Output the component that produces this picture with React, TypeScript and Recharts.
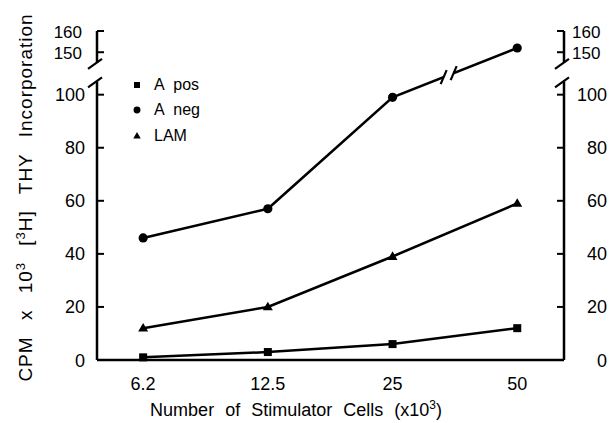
import { LineChart, Line, XAxis, YAxis, ReferenceLine, ReferenceDot, Legend } from 'recharts';

const cells = ['6.2', '12.5', '25', '50'];
const aPos = [1, 3, 6, 12];
const aNeg = [46, 57, 99, 152];
const lam = [12, 20, 39, 59];

const lowerTicks = [0, 20, 40, 60, 80, 100];
const upperTicks = [150, 160];

const FONT = '"Liberation Sans", Arial, Helvetica, sans-serif';

// broken y axis: 0-100 at full scale, 150-160 squeezed in above the gap
const toAxis = (v: number) => (v < 125 ? v : 116 + (v - 150) * 0.8);
const Y_MAX = toAxis(160);
const LOWER_END = toAxis(105);
const UPPER_END = toAxis(145);
const X_MIN = -0.37;
const X_MAX = 3.375;

const series = [
  { key: 'aPos', name: 'A pos', shape: 'square', axis: 'left' },
  { key: 'aNeg', name: 'A neg', shape: 'circle', axis: 'left' },
  { key: 'lam', name: 'LAM', shape: 'triangle', axis: 'right' },
];

const data = cells.map((c, i) => ({
  i,
  cell: c,
  aPos: toAxis(aPos[i]),
  aNeg: toAxis(aNeg[i]),
  lam: toAxis(lam[i]),
}));

const allTicks = [...lowerTicks, ...upperTicks];
const labelFor = (v: number) =>
  allTicks.reduce((best, t) => (Math.abs(toAxis(t) - v) < Math.abs(toAxis(best) - v) ? t : best), 0);

// where the A neg line gets its own break mark, between 25 and 50
const BREAK_X = 2.45;
const BREAK_Y = data[2].aNeg + (data[3].aNeg - data[2].aNeg) * (BREAK_X - 2);

const Marker = ({ shape, cx, cy, s }: any) => {
  if (shape === 'square') return <rect x={cx - s} y={cy - s} width={2 * s} height={2 * s} fill="#000" />;
  if (shape === 'circle') return <circle cx={cx} cy={cy} r={s * 1.15} fill="#000" />;
  return (
    <path
      d={`M${cx},${cy - s * 1.3} L${cx + s * 1.25},${cy + s * 0.85} L${cx - s * 1.25},${cy + s * 0.85} Z`}
      fill="#000"
    />
  );
};

const makeDot = (shape: string) => (p: any) =>
  <Marker key={`${shape}-${p.index}`} shape={shape} cx={p.cx} cy={p.cy} s={4} />;

const LeftTick = (p: any) => {
  const { x, y, payload } = p;
  const v = labelFor(payload.value);
  const upper = v > 100;
  return (
    <g>
      <line x1={x} x2={x + 7} y1={y} y2={y} stroke="#000" strokeWidth={2} />
      <text x={x - (upper ? 15 : 12)} y={y + 6.5} textAnchor="end" fontSize={upper ? 17 : 18} fontFamily={FONT} fill="#000">
        {v}
      </text>
    </g>
  );
};

const RightTick = (p: any) => {
  const { x, y, payload } = p;
  const v = labelFor(payload.value);
  const upper = v > 100;
  return (
    <g>
      <line x1={x - 7} x2={x} y1={y} y2={y} stroke="#000" strokeWidth={2} />
      <text
        x={upper ? x + 8 : x + 43}
        y={y + 6.5}
        textAnchor={upper ? 'start' : 'end'}
        fontSize={upper ? 17 : 18}
        fontFamily={FONT}
        fill="#000"
      >
        {v}
      </text>
    </g>
  );
};

const Slash = ({ cx, cy }: any) => (
  <line x1={cx - 9} y1={cy + 6} x2={cx + 5} y2={cy - 4} stroke="#000" strokeWidth={2.2} />
);

const LineBreak = ({ cx, cy }: any) => (
  <g>
    <line x1={cx - 5} y1={cy + 2} x2={cx + 5} y2={cy - 2} stroke="#fff" strokeWidth={6} />
    <line x1={cx - 8} y1={cy + 9} x2={cx - 2} y2={cy - 5} stroke="#000" strokeWidth={2.2} />
    <line x1={cx + 2} y1={cy + 5} x2={cx + 8} y2={cy - 9} stroke="#000" strokeWidth={2.2} />
  </g>
);

const YTitle = ({ viewBox }: any) => {
  const cx = 32;
  const cy = viewBox.y + viewBox.height / 2 + 2;
  return (
    <text
      transform={`rotate(-90 ${cx} ${cy})`}
      x={cx}
      y={cy}
      textAnchor="middle"
      fontSize={19}
      fontFamily={FONT}
      fill="#000"
      style={{ wordSpacing: 10, letterSpacing: 1 }}
    >
      {'CPM x 10'}
      <tspan dy={-7} fontSize={13}>3</tspan>
      <tspan dy={7}>{' ['}</tspan>
      <tspan dy={-7} fontSize={13}>3</tspan>
      <tspan dy={7}>{'H] THY Incorporation'}</tspan>
    </text>
  );
};

const XTitle = ({ viewBox }: any) => (
  <text
    x={viewBox.x + 199}
    y={viewBox.y + 56}
    textAnchor="middle"
    fontSize={18}
    fontFamily={FONT}
    fill="#000"
    style={{ wordSpacing: 6 }}
  >
    {'Number of Stimulator Cells (x10'}
    <tspan dy={-7} fontSize={12}>3</tspan>
    <tspan dy={7}>)</tspan>
  </text>
);

const LegendBox = () => (
  <div style={{ fontFamily: FONT, fontSize: 16, color: '#000' }}>
    {series.map((s) => (
      <div key={s.key} style={{ display: 'flex', alignItems: 'center', height: 25.5 }}>
        <svg width={14} height={14}>
          <Marker shape={s.shape} cx={7} cy={7} s={3} />
        </svg>
        <span style={{ marginLeft: 10, wordSpacing: 5 }}>{s.name}</span>
      </div>
    ))}
  </div>
);

export default function App() {
  return (
    <div style={{ position: 'absolute', left: 0, top: 0, background: '#fff' }}>
      <LineChart width={613} height={423} data={data} margin={{ top: 31, right: 0, bottom: 0, left: 0 }}>
        <XAxis
          dataKey="i"
          type="number"
          domain={[X_MIN, X_MAX]}
          ticks={[0, 1, 2, 3]}
          tickFormatter={(v: number) => cells[v]}
          axisLine={{ stroke: '#000', strokeWidth: 2.5 }}
          tickLine={false}
          tickMargin={11}
          height={63}
          tick={{ fontSize: 18, fill: '#000', fontFamily: FONT }}
          label={<XTitle />}
        />
        <YAxis
          yAxisId="left"
          type="number"
          domain={[0, Y_MAX]}
          ticks={allTicks.map(toAxis)}
          interval={0}
          width={97}
          axisLine={false}
          tickLine={false}
          tickSize={0}
          tickMargin={0}
          tick={(p: any) => <LeftTick {...p} />}
          label={<YTitle />}
        />
        <YAxis
          yAxisId="right"
          orientation="right"
          type="number"
          domain={[0, Y_MAX]}
          ticks={allTicks.map(toAxis)}
          interval={0}
          width={49}
          axisLine={false}
          tickLine={false}
          tickSize={0}
          tickMargin={0}
          tick={(p: any) => <RightTick {...p} />}
        />
        <Legend
          content={() => <LegendBox />}
          layout="vertical"
          align="center"
          verticalAlign="middle"
          wrapperStyle={{ position: 'absolute', left: 130, top: 72, width: 'auto', height: 'auto' }}
        />
        {[X_MIN, X_MAX].map((x) => (
          <ReferenceLine
            key={`lo-${x}`}
            yAxisId="left"
            segment={[{ x, y: 0 }, { x, y: LOWER_END }]}
            stroke="#000"
            strokeWidth={2.5}
            ifOverflow="visible"
          />
        ))}
        {[X_MIN, X_MAX].map((x) => (
          <ReferenceLine
            key={`hi-${x}`}
            yAxisId="left"
            segment={[{ x, y: UPPER_END }, { x, y: Y_MAX }]}
            stroke="#000"
            strokeWidth={2.5}
            ifOverflow="visible"
          />
        ))}
        {series.map((s) => (
          <Line
            key={s.key}
            yAxisId={s.axis}
            dataKey={s.key}
            type="linear"
            stroke="#000"
            strokeWidth={2.5}
            dot={makeDot(s.shape)}
            activeDot={false}
            isAnimationActive={false}
          />
        ))}
        {[X_MIN, X_MAX].flatMap((x) =>
          [LOWER_END, UPPER_END].map((y) => (
            <ReferenceDot
              key={`sl-${x}-${y}`}
              yAxisId="left"
              x={x}
              y={y}
              ifOverflow="visible"
              shape={(p: any) => <Slash {...p} />}
            />
          ))
        )}
        <ReferenceDot
          yAxisId="left"
          x={BREAK_X}
          y={BREAK_Y}
          ifOverflow="visible"
          shape={(p: any) => <LineBreak {...p} />}
        />
      </LineChart>
    </div>
  );
}
